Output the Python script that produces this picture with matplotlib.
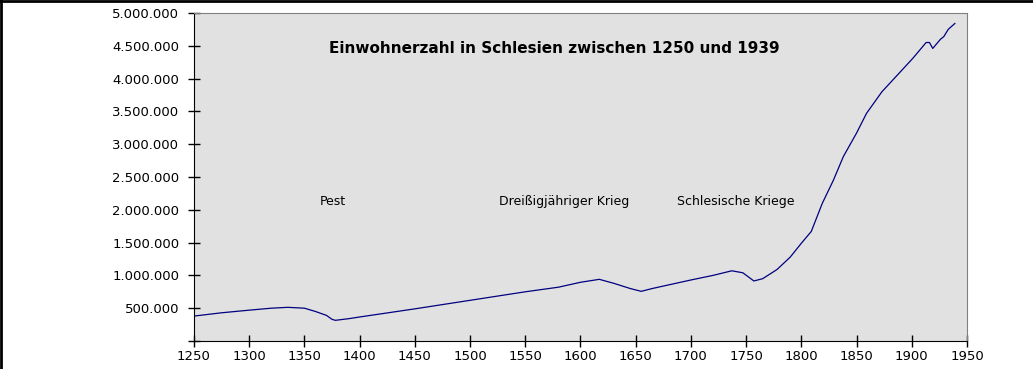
import matplotlib
matplotlib.use("Agg")
import matplotlib.pyplot as plt
from matplotlib.ticker import FuncFormatter

jahre = [1250, 1275, 1300, 1320, 1335, 1350, 1360, 1370, 1375, 1378, 1390, 1400,
         1450, 1500, 1550, 1580, 1600, 1617, 1630, 1645, 1655, 1665, 1700, 1720,
         1737, 1747, 1757, 1765, 1778, 1790, 1800, 1809, 1819, 1829, 1838, 1850,
         1859, 1873, 1884, 1901, 1913, 1916, 1919, 1926, 1929, 1933, 1939]
einwohner_mio = [0.38, 0.43, 0.47, 0.50, 0.513, 0.50, 0.45, 0.39, 0.33, 0.315, 0.34, 0.366,
                 0.49, 0.62, 0.75, 0.82, 0.895, 0.94, 0.88, 0.80, 0.757, 0.80, 0.93, 1.00,
                 1.07, 1.04, 0.915, 0.95, 1.09, 1.28, 1.49, 1.67, 2.10, 2.45, 2.81, 3.17,
                 3.47, 3.80, 4.00, 4.31, 4.55, 4.55, 4.46, 4.60, 4.64, 4.75, 4.84]
einwohner = [v * 1e6 for v in einwohner_mio]

ereignisse = ["Pest", "Dreißigjähriger Krieg", "Schlesische Kriege"]
ereignis_jahr = [1364, 1526, 1687]
ereignis_hoehe = 2.12e6

titel = "Einwohnerzahl in Schlesien zwischen 1250 und 1939"

fig = plt.figure(figsize=(10.33, 3.69), dpi=100)
fig.patch.set_facecolor("white")
ax = fig.add_axes([0.1878, 0.0759, 0.7483, 0.8889])
ax.set_facecolor("#e1e1e1")

ax.plot(jahre, einwohner, color="#000080", linewidth=0.9)

ax.set_xlim(1250, 1950)
ax.set_ylim(0, 5e6)
ax.set_xticks(range(1250, 1951, 50))
ax.set_yticks([i * 5e5 for i in range(11)])
ax.yaxis.set_major_formatter(FuncFormatter(
    lambda v, p: "" if v == 0 else f"{int(v):,}".replace(",", ".")))
ax.tick_params(direction="inout", length=9, width=1, labelsize=9.5)
ax.tick_params(axis="y", pad=6)
ax.tick_params(axis="x", pad=2)

for s in ("left", "bottom"):
    ax.spines[s].set_color("black")
for s in ("top", "right"):
    ax.spines[s].set_color("#808080")

for name, j in zip(ereignisse, ereignis_jahr):
    ax.text(j, ereignis_hoehe, name, fontsize=9, ha="left", va="center")

ax.text(0.466, 0.893, titel, transform=ax.transAxes, ha="center", va="center",
        fontsize=11, fontweight="bold")

# schwarzer Rahmen links und oben
fig.add_artist(plt.Line2D([0.001, 0.001], [0, 1], color="black", linewidth=2,
                          transform=fig.transFigure))
fig.add_artist(plt.Line2D([0, 1], [0.998, 0.998], color="black", linewidth=2,
                          transform=fig.transFigure))

fig.savefig("out.png", dpi=100)
